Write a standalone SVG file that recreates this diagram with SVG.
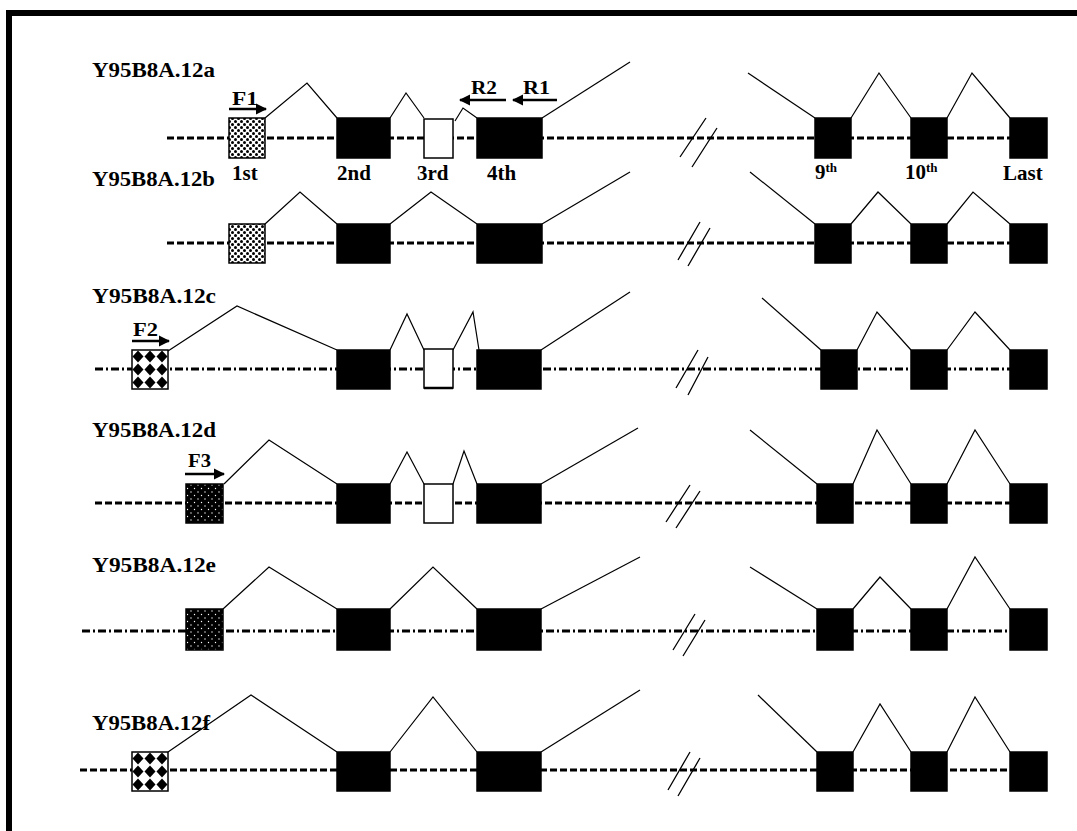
<svg xmlns="http://www.w3.org/2000/svg" width="1077" height="831" viewBox="0 0 1077 831">
  <style>
    .lbl { font-family: "Liberation Serif", "Times New Roman", serif; font-weight: bold; fill: #000; }
    .name { font-size: 21px; }
    .ex { font-size: 21px; }
    .prm { font-size: 19px; }
    .sup { font-size: 13px; }
    .exon { fill: #000; stroke: #000; stroke-width: 1.5; }
    .white { fill: #fff; stroke: #000; stroke-width: 1.5; }
    .dash { stroke: #000; stroke-width: 3; stroke-dasharray: 7 3; fill: none; }
    .dashdot { stroke: #000; stroke-width: 3; stroke-dasharray: 8 3 2 3; fill: none; }
    .intron { stroke: #000; stroke-width: 1.2; fill: none; }
    .brk { stroke: #000; stroke-width: 1.3; fill: none; }
    .arr { stroke: #000; stroke-width: 2.5; fill: none; }
  </style>
  <defs>
    <!-- stippled first exon (light) -->
    <pattern id="stipple" width="6" height="6" patternUnits="userSpaceOnUse">
      <rect width="6" height="6" fill="#fff"/>
      <circle cx="1.5" cy="1.5" r="1.5" fill="#000"/>
      <circle cx="4.5" cy="4.5" r="1.5" fill="#000"/>
    </pattern>
    <!-- diamond grid -->
    <pattern id="diamonds" x="132" y="350" width="12" height="13" patternUnits="userSpaceOnUse">
      <rect width="12" height="13" fill="#fff"/>
      <polygon points="6,0.5 11.5,6.5 6,12.5 0.5,6.5" fill="#000"/>
    </pattern>
    <pattern id="diamondsF" x="132" y="752" width="12" height="13" patternUnits="userSpaceOnUse">
      <rect width="12" height="13" fill="#fff"/>
      <polygon points="6,0.5 11.5,6.5 6,12.5 0.5,6.5" fill="#000"/>
    </pattern>
    <!-- dark exon with white specks -->
    <pattern id="specks" width="7" height="7" patternUnits="userSpaceOnUse">
      <rect width="7" height="7" fill="#000"/>
      <circle cx="2" cy="2" r="0.7" fill="#fff"/>
      <circle cx="5.5" cy="5.5" r="0.7" fill="#fff"/>
    </pattern>
    <marker id="head" viewBox="0 0 10 10" refX="9" refY="5" markerWidth="4.5" markerHeight="4.5" orient="auto" markerUnits="strokeWidth">
      <polygon points="0,0 10,5 0,10" fill="#000"/>
    </marker>
  </defs>

  <rect width="1077" height="831" fill="#fff"/>
  <!-- frame -->
  <rect x="6" y="10" width="1071" height="6" fill="#000"/>
  <rect x="6" y="10" width="6" height="821" fill="#000"/>

  <!-- genomic backbones, break marks and splicing connectors -->
  <g id="connectors">
    <line class="dash" x1="167" y1="138" x2="1045" y2="138"/>
    <line class="dash" x1="167" y1="243" x2="1045" y2="243"/>
    <line class="dashdot" x1="95" y1="369" x2="1045" y2="369"/>
    <line class="dash" x1="95" y1="503" x2="1045" y2="503"/>
    <line class="dashdot" x1="82" y1="631" x2="1045" y2="631"/>
    <line class="dash" x1="80" y1="770" x2="1045" y2="770"/>

    <path class="brk" d="M680,157 L706,118 M692,167 L717,128"/>
    <path class="brk" d="M678,260 L700,222 M688,266 L710,228"/>
    <path class="brk" d="M676,388 L698,350 M688,395 L708,357"/>
    <path class="brk" d="M666,522 L690,485 M676,528 L700,491"/>
    <path class="brk" d="M673,650 L695,614 M683,656 L705,620"/>
    <path class="brk" d="M668,790 L690,752 M678,796 L700,758"/>

    <!-- a -->
    <polyline class="intron" points="265,118 307,83 337,118"/>
    <polyline class="intron" points="390,118 406,93 424,118"/>
    <polyline class="intron" points="455,121 463,108 477,118"/>
    <polyline class="intron" points="542,118 630,62"/>
    <polyline class="intron" points="748,73 815,118"/>
    <polyline class="intron" points="851,118 879,73 911,118"/>
    <polyline class="intron" points="947,118 972,73 1010,118"/>
    <!-- b -->
    <polyline class="intron" points="265,224 300,192 337,224"/>
    <polyline class="intron" points="390,224 431,192 477,224"/>
    <polyline class="intron" points="542,224 630,172"/>
    <polyline class="intron" points="750,172 815,224"/>
    <polyline class="intron" points="851,224 878,192 911,224"/>
    <polyline class="intron" points="947,224 973,192 1010,224"/>
    <!-- c -->
    <polyline class="intron" points="168,351 237,306 337,350"/>
    <polyline class="intron" points="390,350 407,314 424,350"/>
    <polyline class="intron" points="453,350 473,312 479,350"/>
    <polyline class="intron" points="541,350 630,292"/>
    <polyline class="intron" points="762,298 821,350"/>
    <polyline class="intron" points="857,350 877,312 911,350"/>
    <polyline class="intron" points="947,350 975,312 1010,350"/>
    <!-- d -->
    <polyline class="intron" points="224,484 269,440 337,484"/>
    <polyline class="intron" points="390,484 407,452 424,484"/>
    <polyline class="intron" points="453,484 464,451 477,484"/>
    <polyline class="intron" points="541,484 638,428"/>
    <polyline class="intron" points="750,430 817,484"/>
    <polyline class="intron" points="853,484 877,430 911,484"/>
    <polyline class="intron" points="947,484 975,430 1010,484"/>
    <!-- e -->
    <polyline class="intron" points="223,609 269,567 337,609"/>
    <polyline class="intron" points="390,609 433,567 477,609"/>
    <polyline class="intron" points="541,609 640,557"/>
    <polyline class="intron" points="750,567 817,609"/>
    <polyline class="intron" points="853,609 880,577 911,609"/>
    <polyline class="intron" points="947,609 975,557 1010,609"/>
    <!-- f -->
    <polyline class="intron" points="168,752 251,695 337,752"/>
    <polyline class="intron" points="390,752 433,697 477,752"/>
    <polyline class="intron" points="541,752 640,690"/>
    <polyline class="intron" points="758,695 817,752"/>
    <polyline class="intron" points="853,752 880,704 911,752"/>
    <polyline class="intron" points="947,752 975,697 1010,752"/>
  </g>

  <g id="Y95B8A.12a">
    <text class="lbl name" x="92" y="77" textLength="123" lengthAdjust="spacingAndGlyphs">Y95B8A.12a</text>
    <rect x="229" y="118" width="36" height="40" fill="url(#stipple)" stroke="#000" stroke-width="1.5"/>
    <rect class="exon" x="337" y="118" width="53" height="40"/>
    <rect class="white" x="424" y="119" width="29" height="39"/>
    <rect class="exon" x="477" y="118" width="65" height="40"/>
    <rect class="exon" x="815" y="118" width="36" height="40"/>
    <rect class="exon" x="911" y="118" width="36" height="40"/>
    <rect class="exon" x="1010" y="118" width="37" height="40"/>
    <text class="lbl prm" x="232" y="105" textLength="26" lengthAdjust="spacingAndGlyphs">F1</text>
    <line class="arr" x1="229" y1="109" x2="266" y2="109" marker-end="url(#head)"/>
    <text class="lbl prm" x="471" y="94" textLength="26" lengthAdjust="spacingAndGlyphs">R2</text>
    <line class="arr" x1="506" y1="100" x2="460" y2="100" marker-end="url(#head)"/>
    <text class="lbl prm" x="523" y="94" textLength="27" lengthAdjust="spacingAndGlyphs">R1</text>
    <line class="arr" x1="557" y1="100" x2="513" y2="100" marker-end="url(#head)"/>
    <text class="lbl ex" x="232" y="180">1st</text>
    <text class="lbl ex" x="337" y="180">2nd</text>
    <text class="lbl ex" x="417" y="180">3rd</text>
    <text class="lbl ex" x="487" y="180">4th</text>
    <text class="lbl ex" x="815" y="179">9<tspan class="sup" dy="-7">th</tspan></text>
    <text class="lbl ex" x="905" y="179">10<tspan class="sup" dy="-7">th</tspan></text>
    <text class="lbl ex" x="1003" y="180">Last</text>
  </g>

  <g id="Y95B8A.12b">
    <text class="lbl name" x="92" y="186" textLength="123" lengthAdjust="spacingAndGlyphs">Y95B8A.12b</text>
    <rect x="229" y="224" width="36" height="39" fill="url(#stipple)" stroke="#000" stroke-width="1.5"/>
    <rect class="exon" x="337" y="224" width="53" height="39"/>
    <rect class="exon" x="477" y="224" width="65" height="39"/>
    <rect class="exon" x="815" y="224" width="36" height="39"/>
    <rect class="exon" x="911" y="224" width="36" height="39"/>
    <rect class="exon" x="1010" y="224" width="37" height="39"/>
  </g>

  <g id="Y95B8A.12c">
    <text class="lbl name" x="92" y="303" textLength="124" lengthAdjust="spacingAndGlyphs">Y95B8A.12c</text>
    <text class="lbl prm" x="133" y="336" textLength="25" lengthAdjust="spacingAndGlyphs">F2</text>
    <line class="arr" x1="132" y1="341" x2="169" y2="341" marker-end="url(#head)"/>
    <rect x="132" y="350" width="36" height="39" fill="url(#diamonds)" stroke="#000" stroke-width="1.5"/>
    <rect class="exon" x="337" y="350" width="53" height="39"/>
    <rect class="white" x="424" y="349" width="29" height="39"/>
    <line x1="424" y1="388" x2="453" y2="388" stroke="#000" stroke-width="2.5"/>
    <rect class="exon" x="477" y="350" width="64" height="39"/>
    <rect class="exon" x="821" y="350" width="36" height="39"/>
    <rect class="exon" x="911" y="350" width="36" height="39"/>
    <rect class="exon" x="1010" y="350" width="37" height="39"/>
  </g>

  <g id="Y95B8A.12d">
    <text class="lbl name" x="92" y="437" textLength="124" lengthAdjust="spacingAndGlyphs">Y95B8A.12d</text>
    <text class="lbl prm" x="188" y="467" textLength="23" lengthAdjust="spacingAndGlyphs">F3</text>
    <line class="arr" x1="185" y1="474" x2="224" y2="474" marker-end="url(#head)"/>
    <rect x="186" y="484" width="37" height="39" fill="url(#specks)" stroke="#000" stroke-width="1.5"/>
    <rect class="exon" x="337" y="484" width="53" height="39"/>
    <rect class="white" x="424" y="484" width="29" height="39"/>
    <rect class="exon" x="477" y="484" width="64" height="39"/>
    <rect class="exon" x="817" y="484" width="36" height="39"/>
    <rect class="exon" x="911" y="484" width="36" height="39"/>
    <rect class="exon" x="1010" y="484" width="37" height="39"/>
  </g>

  <g id="Y95B8A.12e">
    <text class="lbl name" x="92" y="572" textLength="124" lengthAdjust="spacingAndGlyphs">Y95B8A.12e</text>
    <rect x="186" y="609" width="37" height="41" fill="url(#specks)" stroke="#000" stroke-width="1.5"/>
    <rect class="exon" x="337" y="609" width="53" height="41"/>
    <rect class="exon" x="477" y="609" width="64" height="41"/>
    <rect class="exon" x="817" y="609" width="36" height="41"/>
    <rect class="exon" x="911" y="609" width="36" height="41"/>
    <rect class="exon" x="1010" y="609" width="37" height="41"/>
  </g>

  <g id="Y95B8A.12f">
    <text class="lbl name" x="92" y="730" textLength="118" lengthAdjust="spacingAndGlyphs">Y95B8A.12f</text>
    <rect x="132" y="752" width="36" height="39" fill="url(#diamondsF)" stroke="#000" stroke-width="1.5"/>
    <rect class="exon" x="337" y="752" width="53" height="39"/>
    <rect class="exon" x="477" y="752" width="64" height="39"/>
    <rect class="exon" x="817" y="752" width="36" height="39"/>
    <rect class="exon" x="911" y="752" width="36" height="39"/>
    <rect class="exon" x="1010" y="752" width="37" height="39"/>
  </g>
</svg>
